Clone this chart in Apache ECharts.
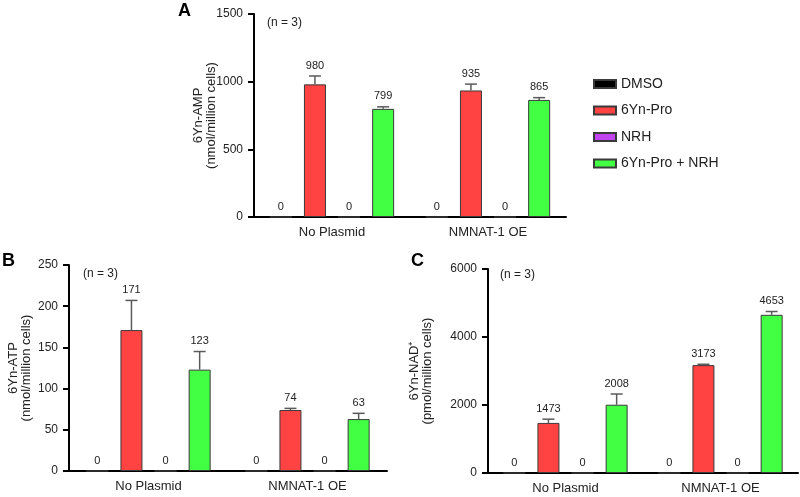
<!DOCTYPE html>
<html>
<head>
<meta charset="utf-8">
<title>6Yn metabolites</title>
<script src="https://cdn.jsdelivr.net/npm/echarts@6/dist/echarts.min.js"></script>
<style>
  html, body { margin: 0; padding: 0; background: #fff; }
  #chart { width: 800px; height: 497px; }
</style>
</head>
<body>
<div id="chart"></div>
<script>
// groups on the x axis
const categories = ['No Plasmid', 'NMNAT-1 OE']
const treatments = ['DMSO', '6Yn-Pro', 'NRH', '6Yn-Pro + NRH']

// panel A: 6Yn-AMP (nmol/million cells), mean and upper SD per treatment
const ampMean = [[0, 0], [980, 935], [0, 0], [799, 865]]
const ampErr = [[0, 0], [62, 47], [0, 0], [15, 17]]

// panel B: 6Yn-ATP (nmol/million cells)
const atpMean = [[0, 0], [171, 74], [0, 0], [123, 63]]
const atpErr = [[0, 0], [36, 2], [0, 0], [22, 7]]

// panel C: 6Yn-NAD+ (pmol/million cells)
const nadMean = [[0, 0], [1473, 3173], [0, 0], [2008, 4653]]
const nadErr = [[0, 0], [110, 25], [0, 0], [315, 97]]

const yTicks = {
  amp: { max: 1500, interval: 500 },
  atp: { max: 250, interval: 50 },
  nad: { max: 6000, interval: 2000 }
}

const colors = ['#000000', '#ff4343', '#c244f0', '#43ff43']
const barWidth = 22
const barGap = 0.55
const font = '"Liberation Sans", Arial, sans-serif'
const textColor = '#222'

const chart = echarts.init(document.getElementById('chart'))

const slotOffset = (slot) => (slot - 1.5) * barWidth * (1 + barGap)

// upper error whisker + value label above it
const errRender = (slot) => (params, api) => {
  const cat = api.value(0)
  const mean = api.value(1)
  const err = api.value(2)
  const base = api.coord([cat, mean])
  const top = api.coord([cat, mean + err])
  const x = base[0] + slotOffset(slot)
  const children = []
  if (err > 0) {
    const st = { stroke: '#5a5a5a', lineWidth: 1.5 }
    children.push({ type: 'line', shape: { x1: x, y1: base[1], x2: x, y2: top[1] }, style: st })
    children.push({ type: 'line', shape: { x1: x - 6, y1: top[1], x2: x + 6, y2: top[1] }, style: st })
  }
  children.push({
    type: 'text',
    style: {
      x: x, y: top[1] - 10.5, text: String(mean),
      align: 'center', verticalAlign: 'middle',
      fill: textColor, font: '11px ' + font
    }
  })
  return { type: 'group', children }
}

const grids = [
  { left: 254, right: 234, top: 14, bottom: 280 },
  { left: 69, right: 413, top: 265, bottom: 26 },
  { left: 488, right: 2, top: 269, bottom: 24 }
]

const panels = [
  { mean: ampMean, err: ampErr, ticks: yTicks.amp, name: '6Yn-AMP\n(nmol/million cells)', gap: 36 },
  { mean: atpMean, err: atpErr, ticks: yTicks.atp, name: '6Yn-ATP\n(nmol/million cells)', gap: 36 },
  { mean: nadMean, err: nadErr, ticks: yTicks.nad, name: '6Yn-NAD\u207A\n(pmol/million cells)', gap: 54 }
]

const xAxes = panels.map((p, i) => ({
  type: 'category',
  gridIndex: i,
  data: categories,
  axisLine: { lineStyle: { color: '#000', width: 2 } },
  axisTick: { alignWithLabel: true, length: 6, lineStyle: { color: '#000', width: 2 } },
  axisLabel: { color: textColor, fontSize: 13, fontFamily: font, margin: 9 }
}))

const yAxes = panels.map((p, i) => ({
  type: 'value',
  gridIndex: i,
  min: 0,
  max: p.ticks.max,
  interval: p.ticks.interval,
  name: p.name,
  nameLocation: 'middle',
  nameGap: p.gap,
  nameMoveOverlap: false,
  nameTextStyle: { color: textColor, fontSize: 13, fontFamily: font, lineHeight: 13 },
  splitLine: { show: false },
  axisLine: { show: true, lineStyle: { color: '#000', width: 2 } },
  axisTick: { show: true, length: 6, lineStyle: { color: '#000', width: 2 } },
  axisLabel: { color: textColor, fontSize: 12, fontFamily: font, margin: 11, formatter: (v) => String(v) }
}))

const series = []
panels.forEach((p, i) => {
  treatments.forEach((t, k) => {
    series.push({
      name: t,
      type: 'bar',
      xAxisIndex: i,
      yAxisIndex: i,
      barWidth: barWidth,
      barGap: (barGap * 100) + '%',
      data: p.mean[k],
      itemStyle: { color: colors[k], borderColor: '#3a3a3a', borderWidth: 1 }
    })
  })
  treatments.forEach((t, k) => {
    series.push({
      type: 'custom',
      xAxisIndex: i,
      yAxisIndex: i,
      z: 5,
      silent: true,
      renderItem: errRender(k),
      encode: { x: 0, y: 1 },
      data: categories.map((c, j) => [j, p.mean[k][j], p.err[k][j]])
    })
  })
})

const label = (x, y, text, size, bold) => ({
  type: 'text', left: x, top: y,
  style: { text, fill: bold ? '#000' : textColor, font: (bold ? 'bold ' : '') + size + 'px ' + font }
})

const option = {
  animation: false,
  backgroundColor: '#fff',
  grid: grids,
  xAxis: xAxes,
  yAxis: yAxes,
  legend: {
    data: treatments,
    orient: 'vertical',
    left: 588,
    top: 72,
    itemWidth: 22,
    itemHeight: 8,
    itemGap: 12.5,
    icon: 'rect',
    textStyle: { color: textColor, fontSize: 14, fontFamily: font, lineHeight: 14 }
  },
  graphic: [
    label(178, 2, 'A', 18, true),
    label(2, 252, 'B', 18, true),
    label(411, 252, 'C', 18, true),
    label(267, 17, '(n = 3)', 12),
    label(83, 268, '(n = 3)', 12),
    label(500, 269, '(n = 3)', 12)
  ],
  series
}

chart.setOption(option)
</script>
</body>
</html>
